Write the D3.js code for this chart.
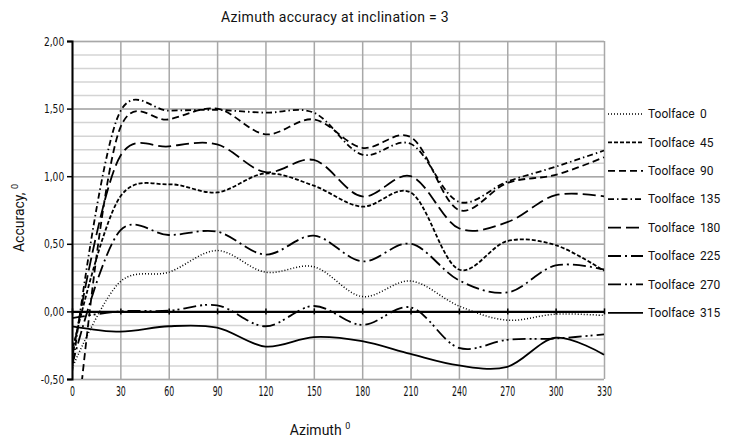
<!DOCTYPE html>
<html>
<head>
<meta charset="utf-8">
<script src="https://cdn.jsdelivr.net/npm/d3@7"></script>
<style>
  body { margin: 0; background: #fff; }
  text { font-family: Roboto, "Liberation Sans", sans-serif; fill: #111; }
  .tick text { font-family: "DejaVu Sans Condensed", "DejaVu Sans", sans-serif; }
</style>
</head>
<body>
<svg id="chart" width="731" height="443"></svg>
<script>
// azimuth values (degrees)
const azimuths = [0, 30, 60, 90, 120, 150, 180, 210, 240, 270, 300, 330];

// accuracy per toolface
const tf0   = [-0.42, 0.22, 0.29, 0.45, 0.29, 0.33, 0.11, 0.225, 0.04, -0.065, -0.02, -0.03];
const tf45  = [-0.30, 0.85, 0.94, 0.88, 1.02, 0.93, 0.775, 0.88, 0.31, 0.52, 0.49, 0.30];
const tf90  = [-1.25, 1.36, 1.42, 1.50, 1.31, 1.42, 1.21, 1.29, 0.75, 0.95, 1.01, 1.14];
const tf135 = [-0.45, 1.48, 1.485, 1.49, 1.47, 1.47, 1.16, 1.24, 0.81, 0.96, 1.07, 1.19];
const tf180 = [-0.35, 1.15, 1.22, 1.235, 1.03, 1.12, 0.85, 1.00, 0.615, 0.66, 0.86, 0.85];
const tf225 = [-0.40, 0.60, 0.565, 0.59, 0.42, 0.56, 0.37, 0.50, 0.23, 0.14, 0.34, 0.31];
const tf270 = [-0.05, 0.00, 0.005, 0.045, -0.11, 0.04, -0.10, 0.03, -0.27, -0.21, -0.20, -0.17];
const tf315 = [-0.11, -0.15, -0.11, -0.12, -0.26, -0.19, -0.22, -0.315, -0.40, -0.41, -0.195, -0.32];

const seriesNames = ["Toolface  0", "Toolface  45", "Toolface  90", "Toolface  135",
  "Toolface  180", "Toolface  225", "Toolface  270", "Toolface  315"];
const seriesValues = [tf0, tf45, tf90, tf135, tf180, tf225, tf270, tf315];
const dashes = ["1,2", "4,2", "7,4", "6,3,1.5,3", "13,5", "13,4,2,4", "13,4,2,3,2,4", null];
const widths = [1.5, 1.8, 1.8, 1.8, 1.8, 1.8, 1.8, 1.8];

const yTicks = [-0.5, 0, 0.5, 1, 1.5, 2];

const svg = d3.select("#chart");
const plotLeft = 72, plotRight = 604, plotTop = 41, plotBottom = 379;

const x = d3.scaleLinear().domain([0, 330]).range([plotLeft, plotRight]);
const y = d3.scaleLinear().domain([-0.5, 2]).range([plotBottom, plotTop]);

const locale = d3.formatLocale({ decimal: ",", thousands: " ", grouping: [3], minus: "-" });
const fmt = locale.format(".2f");

// minor horizontal grid
svg.append("g")
  .attr("transform", `translate(${plotLeft},0)`)
  .call(d3.axisLeft(y).tickValues(d3.range(-5, 21).map((i) => i / 10)).tickSize(-(plotRight - plotLeft)).tickFormat(""))
  .call((g) => g.select(".domain").remove())
  .call((g) => g.selectAll("line").attr("stroke", "#d4d4d4").attr("stroke-width", 1.5));

// major horizontal grid
svg.append("g")
  .attr("transform", `translate(${plotLeft},0)`)
  .call(d3.axisLeft(y).tickValues(yTicks).tickSize(-(plotRight - plotLeft)).tickFormat(""))
  .call((g) => g.select(".domain").remove())
  .call((g) => g.selectAll("line").attr("stroke", "#a8a8a8").attr("stroke-width", 1.5));

// vertical grid
svg.append("g")
  .attr("transform", `translate(0,${plotBottom})`)
  .call(d3.axisBottom(x).tickValues(azimuths).tickSize(-(plotBottom - plotTop)).tickFormat(""))
  .call((g) => g.select(".domain").remove())
  .call((g) => g.selectAll("line").attr("stroke", "#a8a8a8").attr("stroke-width", 1.5));

// y axis
svg.append("g")
  .attr("transform", `translate(${plotLeft},0)`)
  .call(d3.axisLeft(y).tickValues(yTicks).tickSize(5).tickFormat(fmt))
  .call((g) => g.select(".domain").attr("stroke", "#000").attr("stroke-width", 2))
  .call((g) => g.selectAll(".tick line").attr("stroke", "#000").attr("stroke-width", 1.5))
  .call((g) => g.selectAll(".tick text")
    .attr("font-size", 13)
    .attr("x", -10)
    .attr("transform", "scale(0.78,1)")
    .attr("fill", "#111"));

// x tick labels at the bottom
svg.append("g")
  .attr("transform", `translate(0,${plotBottom})`)
  .call(d3.axisBottom(x).tickValues(azimuths).tickSize(0).tickPadding(7))
  .call((g) => g.select(".domain").remove())
  .call((g) => g.selectAll(".tick text")
    .attr("font-size", 14)
    .attr("transform", "scale(0.62,1)")
    .attr("fill", "#111"));

// zero line with cross ticks
svg.append("g")
  .attr("transform", `translate(0,${y(0)})`)
  .call(d3.axisBottom(x).tickValues(azimuths).tickSize(3).tickSizeOuter(0).tickFormat(""))
  .call((g) => g.select(".domain").attr("stroke", "#000").attr("stroke-width", 2.2))
  .call((g) => g.selectAll(".tick line").attr("y1", -3).attr("stroke", "#000").attr("stroke-width", 1.5));

// clip
svg.append("defs").append("clipPath").attr("id", "plot")
  .append("rect").attr("x", plotLeft).attr("y", plotTop).attr("width", plotRight - plotLeft + 2).attr("height", plotBottom - plotTop);

const line = d3.line()
  .x((d) => x(d[0]))
  .y((d) => y(d[1]))
  .curve(d3.curveCatmullRom.alpha(0.2));

svg.append("g")
  .attr("clip-path", "url(#plot)")
  .selectAll("path")
  .data(seriesValues)
  .join("path")
  .attr("d", (vals) => line(azimuths.map((a, i) => [a, vals[i]])))
  .attr("fill", "none")
  .attr("stroke", "#000")
  .attr("stroke-width", (d, i) => widths[i])
  .attr("stroke-dasharray", (d, i) => dashes[i]);

// legend
const legend = svg.append("g")
  .selectAll("g")
  .data(seriesNames)
  .join("g")
  .attr("transform", (d, i) => `translate(608,${114 + i * 28.4})`);

legend.append("line")
  .attr("x1", 0).attr("x2", 35)
  .attr("stroke", "#000")
  .attr("stroke-width", (d, i) => widths[i])
  .attr("stroke-dasharray", (d, i) => dashes[i]);

legend.append("text")
  .attr("x", 40)
  .attr("dy", "0.35em")
  .attr("font-size", 12)
  .text((d) => d.split("  ")[0]);

legend.append("text")
  .attr("x", 92)
  .attr("dy", "0.35em")
  .attr("font-size", 12)
  .text((d) => d.split("  ")[1]);

// titles
svg.append("text")
  .attr("x", 335).attr("y", 22)
  .attr("text-anchor", "middle")
  .attr("font-size", 14)
  .attr("letter-spacing", 0.3)
  .text("Azimuth accuracy at inclination = 3");

const yTitle = svg.append("text")
  .attr("transform", "translate(24,218) rotate(-90)")
  .attr("text-anchor", "middle")
  .attr("font-size", 14);
yTitle.append("tspan").text("Accuracy, ");
yTitle.append("tspan").attr("font-size", 9).attr("dy", -6).text("0");

const xTitle = svg.append("text")
  .attr("x", 320).attr("y", 435)
  .attr("text-anchor", "middle")
  .attr("font-size", 14);
xTitle.append("tspan").text("Azimuth ");
xTitle.append("tspan").attr("font-size", 9).attr("dy", -6).text("0");
</script>
</body>
</html>
